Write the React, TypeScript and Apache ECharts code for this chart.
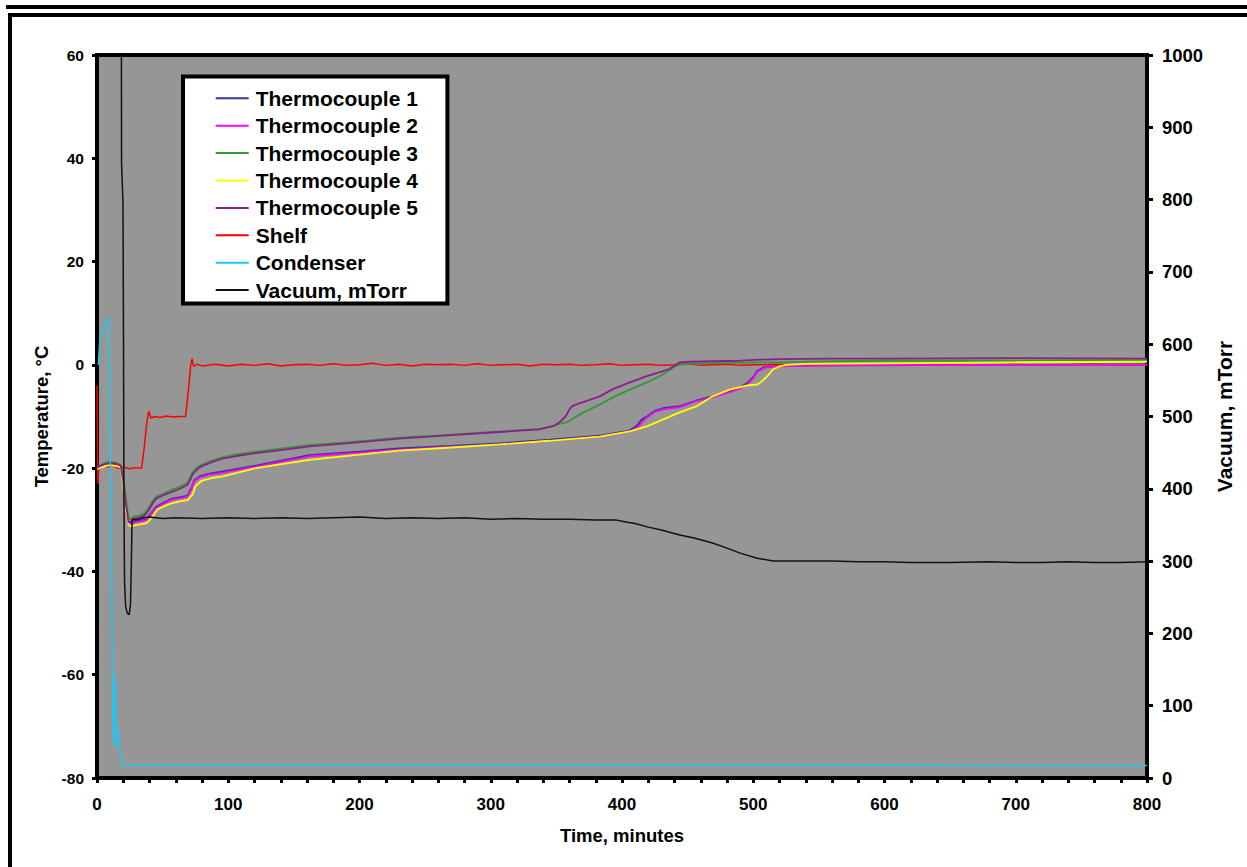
import React, { useEffect, useRef } from "react";
import * as echarts from "echarts";

type P = [number, number];

const xTicks = { min: 0, max: 800, interval: 100 };
const tempAxis = { min: -80, max: 60, interval: 20 };
const vacAxis = { min: 0, max: 1000, interval: 100 };

const seriesNames = [
  "Thermocouple 1",
  "Thermocouple 2",
  "Thermocouple 3",
  "Thermocouple 4",
  "Thermocouple 5",
  "Shelf",
  "Condenser",
  "Vacuum, mTorr",
];

const tc1: P[] = [
  [0, -19.9], [2, -19.7], [6, -19.3], [10, -19.1], [15, -19.3], [18, -19.5], [20, -22.8], [22, -27.3], [24, -30.6],
  [26, -30.5], [30, -30.2], [35, -30.0], [38, -29.8], [41, -28.8], [45, -27.5], [50, -26.8], [57, -25.9], [64, -25.6],
  [69, -25.3], [72, -23.8], [74, -22.4], [78, -21.6], [85, -21.1], [95, -20.7], [121, -19.5], [162, -17.5], [200, -16.8],
  [230, -16.2], [270, -15.7], [307, -15.2], [345, -14.5], [383, -13.7], [405, -12.8], [409, -12.2], [412, -11.6],
  [415, -10.6], [419, -10.0], [425, -8.9], [431, -8.4], [444, -8.0], [457, -6.9], [469, -6.1], [482, -5.1], [490, -4.4],
  [496, -3.4], [500, -2.4], [503, -1.2], [507, -0.6], [510, -0.4], [520, -0.2], [560, -0.1], [700, 0.0], [800, 0.1],
];

const tc2: P[] = [
  [0, -20.0], [2, -19.8], [6, -19.4], [10, -19.2], [15, -19.4], [18, -19.6], [20, -23.0], [22, -27.5], [24, -30.8],
  [26, -30.7], [30, -30.4], [35, -30.2], [38, -30.0], [41, -29.0], [45, -27.7], [50, -27.0], [57, -26.1], [64, -25.8],
  [69, -25.5], [72, -24.0], [74, -22.6], [78, -21.8], [85, -21.3], [95, -20.9], [121, -19.7], [162, -17.7], [200, -17.0],
  [230, -16.4], [270, -15.9], [307, -15.4], [345, -14.7], [383, -13.9], [406, -12.9], [410, -12.4], [413, -11.8],
  [416, -10.9], [419, -10.2], [425, -9.1], [431, -8.6], [444, -8.2], [457, -7.0], [469, -6.3], [482, -5.3], [490, -4.6],
  [496, -3.7], [500, -2.6], [503, -1.4], [507, -0.8], [510, -0.5], [520, -0.3], [540, -0.2], [560, -0.1], [700, 0.0],
  [800, 0.0],
];

const tc3: P[] = [
  [0, -20.0], [2, -19.5], [6, -19.0], [10, -18.8], [15, -19.0], [18, -19.4], [20, -22.0], [22, -26.0], [24, -29.5],
  [26, -30.0], [28, -29.4], [32, -29.2], [36, -28.8], [39, -27.8], [42, -26.5], [45, -25.5], [50, -25.0], [57, -24.2],
  [64, -23.5], [69, -22.8], [71, -21.8], [73, -20.7], [76, -19.9], [80, -19.3], [88, -18.5], [95, -17.9], [105, -17.4],
  [121, -16.8], [140, -16.2], [162, -15.5], [190, -15.0], [230, -14.1], [270, -13.5], [307, -12.9], [337, -12.4],
  [345, -12.0], [352, -11.5], [358, -11.1], [370, -9.3], [383, -7.7], [393, -6.3], [405, -4.9], [419, -3.4],
  [428, -2.3], [434, -1.4], [438, -0.7], [442, -0.1], [450, 0.2], [480, 0.4], [520, 0.5], [560, 0.7], [600, 0.8],
  [700, 0.8], [800, 0.9],
];

const tc4: P[] = [
  [0, -20.2], [2, -20.0], [6, -19.6], [10, -19.4], [15, -19.6], [18, -19.8], [20, -23.5], [22, -28.0], [24, -31.0],
  [26, -31.3], [30, -31.0], [35, -30.8], [38, -30.6], [42, -29.5], [46, -28.0], [50, -27.5], [57, -26.8], [64, -26.4],
  [69, -26.2], [73, -25.0], [75, -23.5], [80, -22.4], [88, -21.9], [96, -21.6], [121, -20.0], [162, -18.4],
  [200, -17.4], [230, -16.6], [270, -16.0], [307, -15.4], [345, -14.7], [383, -13.9], [406, -12.9], [419, -11.9],
  [431, -10.6], [444, -9.2], [457, -8.0], [469, -6.1], [482, -4.8], [495, -4.0], [503, -3.8], [506, -3.3],
  [510, -2.4], [513, -1.5], [515, -0.9], [520, -0.3], [525, 0.0], [540, 0.2], [600, 0.3], [700, 0.5], [800, 0.6],
];

const tc5: P[] = [
  [0, -20.0], [2, -19.6], [6, -19.2], [10, -19.0], [15, -19.2], [18, -19.5], [20, -22.5], [22, -27.0], [24, -30.5],
  [26, -30.3], [28, -29.8], [32, -29.6], [36, -29.2], [39, -28.3], [42, -27.0], [45, -25.9], [50, -25.3], [57, -24.6],
  [64, -23.9], [69, -23.2], [71, -22.2], [73, -21.1], [76, -20.3], [80, -19.6], [88, -18.8], [95, -18.2], [105, -17.7],
  [121, -17.1], [140, -16.5], [162, -15.8], [190, -15.2], [230, -14.3], [270, -13.6], [307, -13.0], [337, -12.5],
  [348, -11.8], [353, -11.0], [357, -10.0], [360, -8.6], [362, -8.0], [366, -7.6], [383, -6.1], [393, -4.7],
  [405, -3.5], [419, -2.2], [430, -1.3], [436, -0.8], [441, 0.0], [444, 0.5], [452, 0.6], [470, 0.7], [490, 0.8],
  [505, 1.0], [520, 1.1], [560, 1.2], [600, 1.2], [700, 1.3], [800, 1.2],
];

const shelf: P[] = [
  [0, -4], [0.7, -23], [1.5, -19.5], [3, -20], [5, -19.3], [8, -19.8], [12, -19.5], [16, -20], [20, -19.8],
  [25, -20.1], [30, -19.9], [34, -20], [36, -16], [38, -11], [39.5, -9], [41, -10.3], [44, -10], [48, -10.2],
  [53, -9.9], [58, -10.1], [63, -10], [67.5, -10], [70, -4], [71.5, 0.2], [72.5, 1.2], [73.5, -0.3], [76, 0.1],
  [80, -0.2], [90, 0.1], [100, -0.2], [110, 0.1], [120, -0.1], [130, 0.2], [140, -0.2], [150, 0], [160, 0.1],
  [170, -0.1], [180, 0.2], [190, -0.1], [200, 0], [210, 0.3], [220, -0.1], [230, 0.1], [240, -0.2], [250, 0.1],
  [260, 0], [270, 0.1], [280, -0.1], [290, 0.2], [300, -0.1], [310, 0], [320, 0.1], [330, -0.2], [340, 0.1],
  [350, 0], [360, 0.1], [370, -0.1], [380, 0], [390, 0.2], [400, -0.1], [410, 0], [420, 0.1], [430, -0.1],
  [440, 0], [450, 0.2], [460, -0.1], [470, 0], [480, 0.1], [490, -0.1], [500, 0], [520, 0.1], [540, -0.1],
  [560, 0], [580, 0.1], [600, -0.1], [620, 0], [640, 0.1], [660, -0.1], [680, 0], [700, 0.1], [720, -0.1],
  [740, 0], [760, 0.1], [780, -0.1], [800, 0],
];

const condenser: P[] = [
  [1, 0], [2, 4], [3, 5.5], [5, 7], [7, 8.5], [8.5, 9.2], [9, 7], [9.5, 2], [10, -15], [11, -40], [11.5, -51],
  [12, -62], [12.5, -72], [13, -74], [13.5, -63], [14, -60], [14.5, -68], [15, -74], [15.5, -70], [16.5, -72],
  [17.5, -75], [19, -77.5], [100, -77.5], [300, -77.5], [500, -77.5], [800, -77.6],
];

const vacuum: P[] = [
  [18.3, 1200], [18.6, 1000], [18.7, 850], [19.8, 795], [20.2, 600], [20.5, 400], [20.7, 340], [21, 270],
  [21.8, 238], [23, 228], [24.5, 226], [25.5, 240], [26.2, 300], [26.6, 345], [27, 358], [30, 357], [35, 360],
  [40, 361], [50, 359], [60, 360], [80, 359], [100, 360], [120, 359], [140, 360], [160, 359], [180, 360],
  [200, 361], [220, 359], [240, 360], [260, 359], [280, 360], [300, 358], [320, 359], [340, 358], [360, 358],
  [380, 357], [395, 357], [403, 354], [410, 352], [420, 347], [430, 343], [444, 336], [455, 332], [469, 325],
  [480, 318], [490, 311], [503, 304], [515, 300], [540, 300], [560, 300], [580, 299], [600, 299], [620, 298],
  [650, 298], [680, 299], [700, 298], [720, 298], [740, 299], [760, 298], [780, 298], [800, 299],
];

const colors = ["#333399", "#ff00ff", "#339933", "#ffff00", "#8b1f8b", "#ff0000", "#1ec8f0", "#111111"];
const dataSets = [tc1, tc2, tc3, tc4, tc5, shelf, condenser, vacuum];

const FONT = '"Liberation Sans", Arial, Helvetica, sans-serif';

export default function App() {
  const ref = useRef<HTMLDivElement>(null);

  useEffect(() => {
    document.body.style.margin = "0";
    const chart = echarts.init(ref.current!, null, { renderer: "svg" });
    const axisLineStyle = { color: "#000", width: 4 };
    const tickStyle = { color: "#000", width: 3 };
    const labelBase = { color: "#000", fontWeight: "bold" as const, fontFamily: FONT };
    const plain = (v: number) => String(v);

    chart.setOption({
      animation: false,
      backgroundColor: "#ffffff",
      graphic: [
        { type: "rect", shape: { x: 6, y: 5, width: 1241, height: 4 }, style: { fill: "#000" } },
        { type: "rect", shape: { x: 8, y: 13, width: 1239, height: 4 }, style: { fill: "#000" } },
        { type: "rect", shape: { x: 8, y: 13, width: 4, height: 854 }, style: { fill: "#000" } },
      ],
      grid: {
        left: 97,
        top: 55,
        width: 1050,
        height: 723,
        show: true,
        backgroundColor: "#969696",
        borderColor: "#000",
        borderWidth: 4,
        containLabel: false,
      },
      legend: {
        orient: "vertical",
        left: 183,
        top: 76.5,
        icon: "rect",
        itemWidth: 33,
        itemHeight: 2,
        itemGap: 6.4,
        padding: [11.3, 29.5, 3, 32.7],
        backgroundColor: "#ffffff",
        borderColor: "#000",
        borderWidth: 4,
        data: seriesNames,
        textStyle: { ...labelBase, fontSize: 21, lineHeight: 21, padding: [0, 0, 0, 2] },
      },
      xAxis: {
        type: "value",
        min: xTicks.min,
        max: xTicks.max,
        interval: xTicks.interval,
        name: "Time, minutes",
        nameLocation: "middle",
        nameGap: 48,
        nameTextStyle: { ...labelBase, fontSize: 18.5 },
        axisLine: { show: true, onZero: false, lineStyle: axisLineStyle },
        axisTick: { show: true, length: 5, lineStyle: tickStyle },
        minorTick: { show: true, splitNumber: 5, length: 5, lineStyle: tickStyle },
        splitLine: { show: false },
        axisLabel: { ...labelBase, fontSize: 17, margin: 18, formatter: plain },
      },
      yAxis: [
        {
          type: "value",
          position: "left",
          min: tempAxis.min,
          max: tempAxis.max,
          interval: tempAxis.interval,
          name: "Temperature, °C",
          nameLocation: "middle",
          nameRotate: 90,
          nameGap: 46,
          nameTextStyle: { ...labelBase, fontSize: 18.5 },
          axisLine: { show: true, onZero: false, lineStyle: axisLineStyle },
          axisTick: { show: true, length: 5, lineStyle: tickStyle },
          splitLine: { show: false },
          axisLabel: { ...labelBase, fontSize: 15.5, margin: 13, formatter: plain },
        },
        {
          type: "value",
          position: "right",
          min: vacAxis.min,
          max: vacAxis.max,
          interval: vacAxis.interval,
          name: "Vacuum, mTorr",
          nameLocation: "middle",
          nameRotate: 90,
          nameGap: 55,
          nameTextStyle: { ...labelBase, fontSize: 21 },
          axisLine: { show: true, onZero: false, lineStyle: axisLineStyle },
          axisTick: { show: true, length: 6, lineStyle: tickStyle },
          splitLine: { show: false },
          axisLabel: { ...labelBase, fontSize: 18.5, margin: 15, formatter: plain },
        },
      ],
      series: seriesNames.map((name, i) => ({
        name,
        type: "line",
        yAxisIndex: i === 7 ? 1 : 0,
        data: dataSets[i],
        symbol: "none",
        showSymbol: false,
        clip: true,
        color: colors[i],
        itemStyle: { color: colors[i] },
        lineStyle: { color: colors[i], width: i >= 5 ? 1.5 : 1.8 },
        z: i === 5 ? 1 : 2,
      })),
    });
    return () => chart.dispose();
  }, []);

  return (
    <div
      ref={ref}
      style={{ position: "fixed", left: 0, top: 0, width: 1247, height: 867, background: "#fff" }}
    />
  );
}
